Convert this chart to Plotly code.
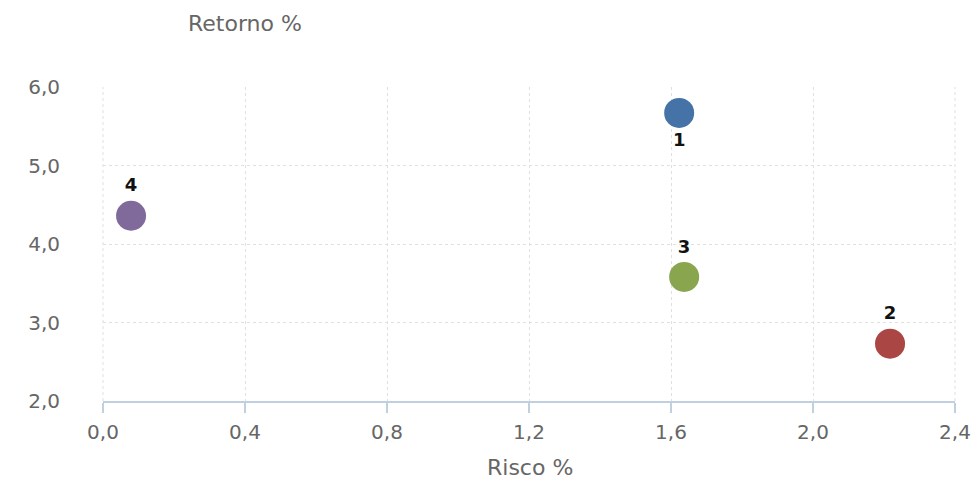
import plotly.graph_objects as go

labels = ["1", "2", "3", "4"]
risco = [1.623, 2.217, 1.637, 0.079]
retorno = [5.67, 2.73, 3.58, 4.36]
colors = ["#4572A7", "#AA4643", "#89A54E", "#80699B"]
label_pos = ["bottom center", "top center", "top center", "top center"]

x_ticks = [0.0, 0.4, 0.8, 1.2, 1.6, 2.0, 2.4]
y_ticks = [2.0, 3.0, 4.0, 5.0, 6.0]

W, H = 979, 479
L, R, T, B = 103, W - 955, 87, H - 401

fig = go.Figure()
for i in range(len(labels)):
    fig.add_trace(go.Scatter(
        x=[risco[i]], y=[retorno[i]], mode="markers+text",
        text=[labels[i]], textposition=label_pos[i],
        textfont=dict(family="DejaVu Sans", size=18, color="#111111", weight="bold"),
        marker=dict(size=30, color=colors[i], line=dict(width=0)),
        showlegend=False, cliponaxis=False,
    ))

font_col = "#666666"
grid_col = "#e0e0e0"
fig.update_layout(
    width=W, height=H,
    margin=dict(l=L, r=R, t=T, b=B, autoexpand=False),
    paper_bgcolor="white", plot_bgcolor="white",
    separators=",.",
    font=dict(family="DejaVu Sans", size=20, color=font_col),
    xaxis=dict(
        range=[0, 2.4], tickvals=x_ticks, tickformat=".1f",
        showgrid=True, gridcolor=grid_col, griddash="dot", gridwidth=1,
        showline=True, linecolor="#C0D0E0", linewidth=1.5,
        ticks="outside", ticklen=10, tickcolor="#C0D0E0", tickwidth=1.5,
        zeroline=False, tickfont=dict(size=20, color=font_col),
        ticklabelstandoff=2, automargin=False,
    ),
    yaxis=dict(
        range=[2, 6], tickvals=y_ticks, tickformat=".1f",
        showgrid=True, gridcolor=grid_col, griddash="dot", gridwidth=1,
        showline=False, zeroline=False,
        ticks="outside", ticklen=0, automargin=False,
        ticklabelstandoff=38, tickfont=dict(size=20, color=font_col),
    ),
    shapes=[
        dict(type="line", xref="paper", yref="paper", x0=0, x1=0, y0=0, y1=1,
             line=dict(color=grid_col, width=1, dash="dot"), layer="below"),
        dict(type="line", xref="paper", yref="paper", x0=1, x1=1, y0=0, y1=1,
             line=dict(color=grid_col, width=1, dash="dot"), layer="below"),
    ],
)

pw = W - L - R
ph = H - T - B


def px_to_paper(px, py):
    return (px - L) / pw, 1 - (py - T) / ph


ax, ay = px_to_paper(245, 24)
bx, by = px_to_paper(530, 467)
fig.add_annotation(text="Retorno %", x=ax, y=ay, xref="paper", yref="paper",
                   showarrow=False, xanchor="center", yanchor="middle",
                   font=dict(size=22, color=font_col))
fig.add_annotation(text="Risco %", x=bx, y=by, xref="paper", yref="paper",
                   showarrow=False, xanchor="center", yanchor="middle",
                   font=dict(size=22, color=font_col))

fig.write_html("out.html", config={"displayModeBar": False},
               post_script="document.body.style.margin='0';")
